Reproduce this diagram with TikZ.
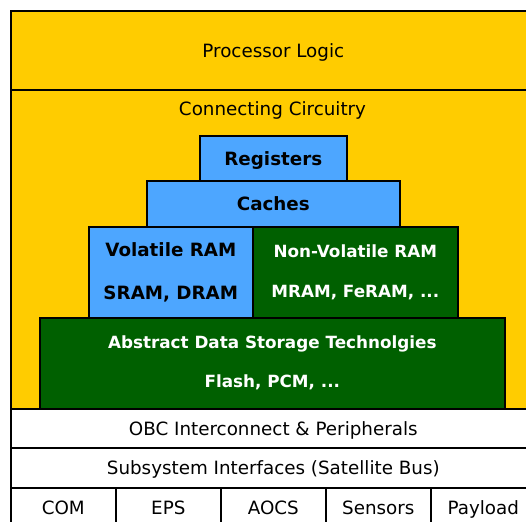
\documentclass[tikz,border=0pt]{standalone}
\usepackage{fontspec}
\setmainfont{DejaVu Sans}
\definecolor{yellowc}{RGB}{255,204,0}
\definecolor{bluec}{RGB}{77,166,255}
\definecolor{greenc}{RGB}{0,96,0}
\begin{document}
\begin{tikzpicture}[x=1pt,y=-1pt,
  box/.style={draw, line width=1.6pt, inner sep=0pt, anchor=north west, text depth=0pt, font=\fontsize{18.3}{22}\selectfont},
  bluebox/.style={draw, line width=1.6pt, inner sep=0pt, anchor=north west, fill=bluec, font=\fontsize{18.3}{43}\selectfont\bfseries, align=center},
  greenbox/.style={draw, line width=1.6pt, inner sep=0pt, anchor=north west, fill=greenc, text=white, font=\fontsize{16.8}{40}\selectfont\bfseries, align=center},
  plain/.style={inner sep=0pt, font=\fontsize{18.3}{22}\selectfont}]
\useasboundingbox (0,0) rectangle (526,521);
\clip (0,0) rectangle (526,521);
\node[box, fill=yellowc, minimum width=525pt, minimum height=79pt] (proc) at (10,10) {Processor Logic};
\node[box, fill=yellowc, minimum width=525pt, minimum height=319pt] (cc) at (10,89) {};
\node[plain] (cctext) at (272.5,110) {Connecting Circuitry};
\node[bluebox, text depth=0pt, minimum width=147pt, minimum height=45pt] (reg) at (199,135) {Registers};
\node[bluebox, text depth=0pt, minimum width=253pt, minimum height=46pt] (cache) at (146,180) {Caches};
\node[bluebox, minimum width=164pt, minimum height=91pt] (vram) at (88,226) {Volatile RAM\\SRAM, DRAM};
\node[greenbox, minimum width=205pt, minimum height=91pt] (nvram) at (252,226) {Non-Volatile RAM\\MRAM, FeRAM, ...};
\node[greenbox, minimum width=465pt, minimum height=91pt, font=\fontsize{16.8}{39}\selectfont\bfseries] (ads) at (39,317) {Abstract Data Storage Technolgies\\Flash, PCM, ...};
\node[box, fill=white, minimum width=525pt, minimum height=39pt] (obc) at (10,408) {OBC Interconnect \& Peripherals};
\node[box, fill=white, minimum width=525pt, minimum height=40pt] (sub) at (10,447) {Subsystem Interfaces (Satellite Bus)};
\node[box, fill=white, minimum width=105pt, minimum height=40pt] (com) at (10,487) {COM};
\node[box, fill=white, minimum width=105pt, minimum height=40pt] (eps) at (115,487) {EPS};
\node[box, fill=white, minimum width=105pt, minimum height=40pt] (aocs) at (220,487) {AOCS};
\node[box, fill=white, minimum width=105pt, minimum height=40pt] (sens) at (325,487) {Sensors};
\node[box, fill=white, minimum width=105pt, minimum height=40pt] (pay) at (430,487) {Payload};
\end{tikzpicture}
\end{document}
